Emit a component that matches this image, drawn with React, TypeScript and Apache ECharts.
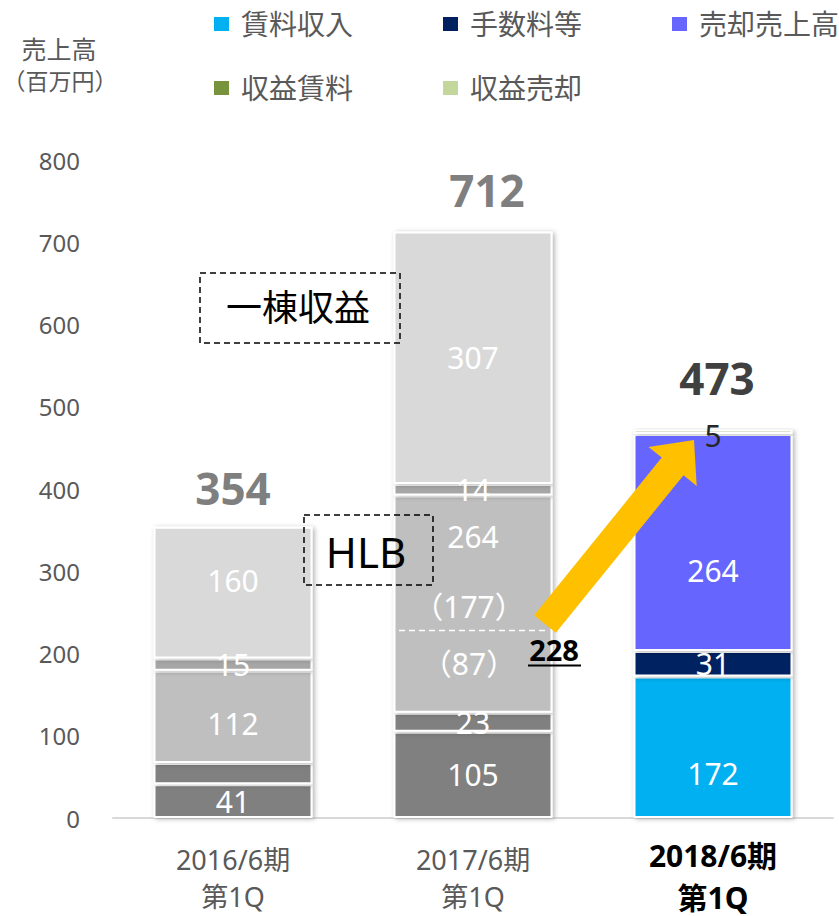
import React, { useEffect, useRef } from "react";
import * as echarts from "echarts";

const categories = ["2016/6期\n第1Q", "2017/6期\n第1Q", "2018/6期\n第1Q"];
const totals = [354, 712, 473];
// gray (一棟収益 / HLB) stacks
const grayBottom = [41, 105, null];
const grayLower = [26, 23, null];
const grayMid = [112, 264, null];
const grayThin = [15, 14, null];
const grayTop = [160, 307, null];
// 2018 colored series
const chinryo = [null, null, 172];
const tesuryo = [null, null, 31];
const baikyaku = [null, null, 264];
const shuekiChinryo = [null, null, 5];
const shuekiBaikyaku = [null, null, null];
const hlbSplit = 228;
const hlbSplitLabels = ["（177）", "（87）"];

const FONT = "'Noto Sans', 'Noto Sans CJK JP', sans-serif";

export default function App() {
  const ref = useRef<HTMLDivElement>(null);
  useEffect(() => {
    if (!ref.current) return;
    const chart = echarts.init(ref.current, null, { renderer: "svg" });
    const itemStyle = (color: string) => ({
      color,
      borderColor: "#ffffff",
      borderWidth: 2,
      shadowBlur: 5,
      shadowColor: "rgba(0,0,0,0.3)",
      shadowOffsetX: 2,
      shadowOffsetY: 1,
    });
    const lbl = (show = true, extra: any = {}) => ({
      show,
      position: "inside",
      color: "#ffffff",
      fontSize: 30,
      fontFamily: FONT,
      ...extra,
    });
    const mk = (name: string, data: any[], color: string, label: any) => ({
      name,
      type: "bar",
      stack: "s",
      barWidth: 159,
      data,
      itemStyle: itemStyle(color),
      label,
      emphasis: { disabled: true },
    });
    const series: any[] = [
      mk("g1", grayBottom, "#808080", lbl()),
      mk(
        "g2",
        grayLower.map((v, i) => (i === 0 ? { value: v, label: { show: false } } : v)),
        "#808080",
        lbl()
      ),
      mk(
        "g3",
        grayMid.map((v, i) =>
          i === 1 ? { value: v, label: { position: "insideTop", distance: 26 } } : { value: v, label: { offset: [0, 7] } }
        ),
        "#BFBFBF",
        lbl()
      ),
      mk("g4", grayThin, "#A6A6A6", lbl()),
      mk(
        "g5",
        grayTop.map((v, i) => (i === 0 ? { value: v, label: { offset: [0, -12] } } : v)),
        "#D9D9D9",
        lbl()
      ),
      mk("賃料収入", chinryo.map((v) => (v == null ? v : { value: v, label: { offset: [0, 26] } })), "#00B0F0", lbl()),
      mk("手数料等", tesuryo, "#002060", lbl()),
      mk("売却売上高", baikyaku.map((v) => (v == null ? v : { value: v, label: { offset: [0, 28] } })), "#6666FF", lbl()),
      mk("収益賃料", shuekiChinryo, "#77933C", lbl(true, { color: "#262626", offset: [0, 4] })),
      mk("収益売却", shuekiBaikyaku, "#C3D69B", lbl(false)),
    ];
    const legendCommon = {
      itemWidth: 17,
      itemHeight: 16,
      icon: "rect",
      itemGap: 88,
      width: 700,
      padding: 0,
      textStyle: { fontSize: 28, color: "#595959", fontFamily: FONT, padding: [0, 0, 0, 6] },
      selectedMode: false,
    };
    chart.setOption({
      animation: false,
      grid: { left: 113, right: 6, top: 160, bottom: 98 },
      legend: [
        { ...legendCommon, left: 212, top: 10, data: ["賃料収入", "手数料等", "売却売上高"] },
        { ...legendCommon, left: 212, top: 74, data: ["収益賃料", "収益売却"] },
      ],
      xAxis: {
        type: "category",
        data: categories,
        axisLine: { lineStyle: { color: "#D9D9D9", width: 2 } },
        axisTick: { show: false },
        axisLabel: {
          margin: 16,
          interval: 0,
          formatter: (v: string, i: number) =>
            v
              .split("\n")
              .map((s, k) => (i === 2 ? `{b|${s}}` : k === 0 ? `{n1|${s}}` : `{n|${s}}`))
              .join("\n"),
          rich: {
            n1: { fontSize: 27, color: "#595959", fontFamily: FONT, lineHeight: 41, padding: [9, 0, 0, 0] },
            n: { fontSize: 27, color: "#595959", fontFamily: FONT, lineHeight: 42 },
            b: { fontSize: 30, color: "#000000", fontWeight: "bold", fontFamily: FONT, lineHeight: 42 },
          },
        },
      },
      yAxis: {
        type: "value",
        min: 0,
        max: 800,
        interval: 100,
        axisLine: { show: false },
        axisTick: { show: false },
        splitLine: { show: false },
        axisLabel: { fontSize: 24, color: "#595959", fontFamily: FONT, margin: 33 },
      },
      series,
    });

    const px = (ci: number, v: number) => chart.convertToPixel({ xAxisIndex: 0, yAxisIndex: 0 }, [ci, v]) as number[];
    const graphics: any[] = [];
    // y axis name
    graphics.push({
      type: "text",
      x: 59,
      y: 49,
      style: { text: "売上高", fontSize: 25, fill: "#595959", fontFamily: FONT, align: "center", verticalAlign: "middle" },
    });
    graphics.push({
      type: "text",
      x: 60,
      y: 81,
      style: { text: "（百万円）", fontSize: 23, fill: "#595959", fontFamily: FONT, align: "center", verticalAlign: "middle" },
    });
    // totals
    const dx = [0, 14, 4];
    const dy = [39, 42, 51];
    const tc = ["#7F7F7F", "#7F7F7F", "#404040"];
    totals.forEach((t, i) => {
      const p = px(i, t);
      graphics.push({
        type: "text",
        x: p[0] + dx[i],
        y: p[1] - dy[i],
        style: {
          text: String(t),
          fontSize: 44,
          fontWeight: "bold",
          fill: tc[i],
          fontFamily: FONT,
          align: "center",
          verticalAlign: "middle",
        },
      });
    });
    // split line inside 2017 bar
    const sp = px(1, hlbSplit);
    graphics.push({
      type: "line",
      shape: { x1: sp[0] - 74, y1: sp[1], x2: sp[0] + 76, y2: sp[1] },
      style: { stroke: "#ffffff", lineWidth: 1.5, lineDash: [6, 4] },
      z: 10,
    });
    hlbSplitLabels.forEach((t, i) => {
      graphics.push({
        type: "text",
        x: sp[0] - 4,
        y: i === 0 ? sp[1] - 24 : sp[1] + 33,
        style: { text: t, fontSize: 30, fill: "#ffffff", fontFamily: FONT, align: "center", verticalAlign: "middle" },
        z: 10,
      });
    });
    // 228 label
    graphics.push({
      type: "text",
      x: sp[0] + 81,
      y: sp[1] + 19,
      style: {
        text: String(hlbSplit),
        fontSize: 29,
        fontWeight: "bold",
        fill: "#000000",
        fontFamily: FONT,
        align: "center",
        verticalAlign: "middle",
      },
      z: 10,
    });
    graphics.push({
      type: "line",
      shape: { x1: sp[0] + 55, y1: sp[1] + 35, x2: sp[0] + 108, y2: sp[1] + 35 },
      style: { stroke: "#000000", lineWidth: 2 },
      z: 10,
    });
    // arrow
    const T = [545, 624];
    const H = [694, 440];
    const len = Math.hypot(H[0] - T[0], H[1] - T[1]);
    const u = [(H[0] - T[0]) / len, (H[1] - T[1]) / len];
    const n = [-u[1], u[0]];
    const B = [H[0] - 34 * u[0], H[1] - 34 * u[1]];
    const pt = (b: number[], k: number) => [b[0] + k * n[0], b[1] + k * n[1]];
    graphics.push({
      type: "polygon",
      shape: { points: [pt(T, 14), pt(B, 14), pt(B, 31), H, pt(B, -31), pt(B, -14), pt(T, -14)] },
      style: { fill: "#FFC000" },
      z: 20,
    });
    // dashed annotation boxes
    graphics.push({
      type: "rect",
      shape: { x: 200, y: 273, width: 200, height: 70 },
      style: { fill: "rgba(0,0,0,0)", stroke: "#000000", lineWidth: 1.5, lineDash: [6, 4] },
      z: 15,
    });
    graphics.push({
      type: "text",
      x: 298,
      y: 307,
      style: { text: "一棟収益", fontSize: 36, fill: "#000000", fontFamily: FONT, align: "center", verticalAlign: "middle" },
      z: 15,
    });
    graphics.push({
      type: "rect",
      shape: { x: 304, y: 515, width: 129, height: 70 },
      style: { fill: "rgba(0,0,0,0)", stroke: "#000000", lineWidth: 1.5, lineDash: [6, 4] },
      z: 15,
    });
    graphics.push({
      type: "text",
      x: 366,
      y: 551,
      style: { text: "HLB", fontSize: 42, fill: "#000000", fontFamily: FONT, align: "center", verticalAlign: "middle" },
      z: 15,
    });
    chart.setOption({ graphic: graphics });
    return () => chart.dispose();
  }, []);
  return <div ref={ref} style={{ position: "fixed", left: 0, top: 0, width: 839, height: 916, background: "#fff" }} />;
}
